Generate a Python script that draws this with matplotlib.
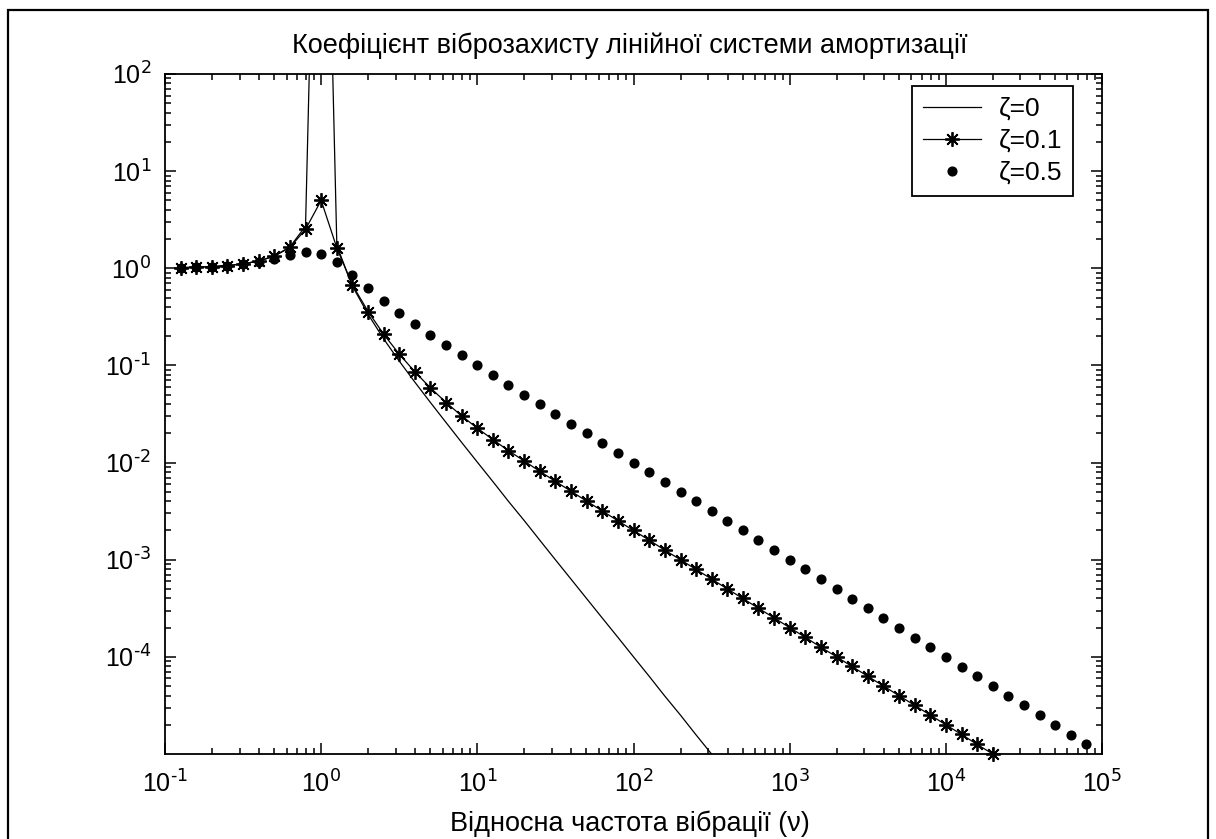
import math
import matplotlib
matplotlib.use('Agg')
import matplotlib.pyplot as plt
from matplotlib.ticker import FixedLocator, FuncFormatter, NullFormatter
from matplotlib.patches import Rectangle

# ---------------- data ----------------
nu = [0.126, 0.158, 0.2, 0.251, 0.316, 0.398, 0.501, 0.631, 0.794,
      1.0, 1.26, 1.58, 2.0, 2.51, 3.16, 3.98, 5.01, 6.31, 7.94,
      10, 12.6, 15.8, 20, 25.1, 31.6, 39.8, 50.1, 63.1, 79.4,
      100, 126, 158, 200, 251, 316, 398, 501, 631, 794,
      1000, 1260, 1580, 2000, 2510, 3160, 3980, 5010, 6310, 7940,
      10000, 12600, 15800, 20000, 25100, 31600, 39800, 50100, 63100, 79400]

t_zeta0 = [1.016, 1.026, 1.042, 1.067, 1.111, 1.188, 1.336, 1.661, 2.71,
           1e7, 1.71, 0.661, 0.335, 0.188, 0.111, 0.0673, 0.0415, 0.0258, 0.0161,
           0.0101, 0.00635, 0.0040, 0.00252, 0.00159, 0.0010, 6.31e-4, 3.98e-4, 2.51e-4, 1.59e-4,
           1.0e-4, 6.31e-5, 3.98e-5, 2.51e-5, 1.58e-5, 1.0e-5, 6.31e-6]

t_zeta01 = [1.016, 1.026, 1.041, 1.067, 1.111, 1.187, 1.330, 1.639, 2.52,
            5.0, 1.619, 0.679, 0.358, 0.210, 0.131, 0.0860, 0.0587, 0.0415, 0.0302,
            0.0226, 0.0172, 0.0133, 0.01036, 0.00813, 0.00641, 0.00507, 0.00401, 0.00318, 0.00252,
            0.00200, 0.00159, 0.00126, 0.00100, 7.96e-4, 6.33e-4, 5.02e-4, 3.99e-4, 3.17e-4, 2.52e-4,
            2.0e-4, 1.59e-4, 1.26e-4, 1.0e-4, 7.96e-5, 6.32e-5, 5.02e-5, 3.99e-5, 3.17e-5, 2.52e-5,
            2.0e-5, 1.59e-5, 1.26e-5, 1.0e-5]

t_zeta05 = [1.016, 1.025, 1.040, 1.063, 1.100, 1.156, 1.241, 1.356, 1.458,
            1.414, 1.158, 0.856, 0.622, 0.460, 0.348, 0.267, 0.207, 0.162, 0.128,
            0.101, 0.0799, 0.0633, 0.0502, 0.0399, 0.0317, 0.0251, 0.0200, 0.0159, 0.0126,
            0.0100, 0.00794, 0.00631, 0.00501, 0.00398, 0.00316, 0.00251, 0.00200, 0.00158, 0.00126,
            0.0010, 7.94e-4, 6.31e-4, 5.01e-4, 3.98e-4, 3.16e-4, 2.51e-4, 2.0e-4, 1.58e-4, 1.26e-4,
            1.0e-4, 7.94e-5, 6.31e-5, 5.01e-5, 3.98e-5, 3.16e-5, 2.51e-5, 2.0e-5, 1.58e-5, 1.26e-5]

series_labels = ['ζ=0', 'ζ=0.1', 'ζ=0.5']
title_text = 'Коефіцієнт віброзахисту лінійної системи амортизації'
xlabel_text = 'Відносна частота вібрації (ν)'
x_major = [1e-1, 1e0, 1e1, 1e2, 1e3, 1e4, 1e5]
y_major = [1e-4, 1e-3, 1e-2, 1e-1, 1e0, 1e1, 1e2]

# ---------------- figure ----------------
plt.rcParams['font.family'] = ['Liberation Sans', 'DejaVu Sans']
plt.rcParams['mathtext.default'] = 'regular'

W, H = 1216, 839
fig = plt.figure(figsize=(W / 100, H / 100), dpi=100)
fig.patch.set_facecolor('white')

# outer frame of the exported figure window
fig.patches.append(Rectangle((8 / W, -0.01), 1200 / W, (H - 10) / H + 0.01,
                             transform=fig.transFigure, fill=False,
                             edgecolor='black', linewidth=1.6))

L, R, T, B = 165, 1102, 74, 754
ax = fig.add_axes([L / W, 1 - B / H, (R - L) / W, (B - T) / H])
ax.set_xscale('log')
ax.set_yscale('log')

ax.plot(nu[:len(t_zeta0)], t_zeta0, color='black', linewidth=0.9,
        label=series_labels[0], clip_on=True)
ax.plot(nu[:len(t_zeta01)], t_zeta01, color='black', linewidth=0.9,
        marker=(8, 2, 0), markersize=10.5, markeredgewidth=1.3,
        label=series_labels[1], clip_on=False)
ax.plot(nu[:len(t_zeta05)], t_zeta05, color='black', linestyle='none',
        marker='o', markersize=6.3, label=series_labels[2], clip_on=False)

ax.set_xlim(1e-1, 1e5)
ax.set_ylim(1e-5, 1e2)


def pow_label(v, pos):
    e = int(round(math.log10(v)))
    return r'$\mathregular{10^{\text{%d}}}$' % e


fmt = FuncFormatter(pow_label)
ax.xaxis.set_major_locator(FixedLocator(x_major))
ax.yaxis.set_major_locator(FixedLocator(y_major))
ax.xaxis.set_major_formatter(fmt)
ax.yaxis.set_major_formatter(fmt)
minor_x = [m * 10.0 ** e for e in range(-1, 5) for m in range(2, 10)]
minor_y = [m * 10.0 ** e for e in range(-5, 2) for m in range(2, 10)]
ax.xaxis.set_minor_locator(FixedLocator(minor_x))
ax.yaxis.set_minor_locator(FixedLocator(minor_y))
ax.xaxis.set_minor_formatter(NullFormatter())
ax.yaxis.set_minor_formatter(NullFormatter())

ax.tick_params(which='both', direction='in', top=True, right=True,
               width=1.1, colors='black', labelsize=18)
ax.tick_params(which='major', length=7.6)
ax.tick_params(which='minor', length=4.6)
ax.tick_params(axis='x', which='major', pad=12)
ax.tick_params(axis='y', which='major', pad=10)
for s in ax.spines.values():
    s.set_linewidth(1.3)
    s.set_color('black')

cx = (L + R) / 2 / W
fig.text(cx - 4 / W, 1 - 53 / H, title_text, ha='center', va='baseline', fontsize=19.5)
fig.text(cx - 4 / W, 1 - 831 / H, xlabel_text, ha='center', va='baseline', fontsize=19.5)

leg = ax.legend(loc='upper right', bbox_to_anchor=((1073 - L) / (R - L), (B - 86) / (B - T)),
                borderaxespad=0, fontsize=19, numpoints=1, handlelength=2.2,
                handletextpad=0.65, labelspacing=0.3, borderpad=0.42,
                fancybox=False, framealpha=1, edgecolor='black')
leg.get_frame().set_linewidth(1.3)

fig.savefig('out.png', dpi=100)
